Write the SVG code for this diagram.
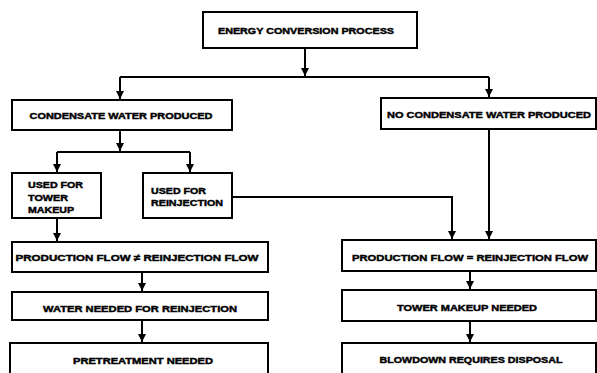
<svg xmlns="http://www.w3.org/2000/svg" width="597" height="373" viewBox="0 0 597 373">
<style>
.box{fill:#fff;stroke:#000;stroke-width:2}
.t{font-family:"Liberation Sans",Arial,sans-serif;font-weight:bold;font-size:9.5px;fill:#000;stroke:#000;stroke-width:0.45}
.c{text-anchor:middle}
.ln{fill:none;stroke:#000;stroke-width:2}
</style>
<defs>
<marker id="ah" viewBox="0 0 8 8" refX="8" refY="4" markerWidth="4" markerHeight="4" orient="auto" markerUnits="strokeWidth">
<path d="M0,0 L8,4 L0,8 Z" fill="#000"/>
</marker>
</defs>
<rect width="597" height="373" fill="#fff"/>
<g id="connectors">
<path class="ln" d="M305,48 V76" marker-end="url(#ah)"/>
<path class="ln" d="M120,77 H489"/>
<path class="ln" d="M120,77 V99" marker-end="url(#ah)"/>
<path class="ln" d="M489,77 V97" marker-end="url(#ah)"/>
<path class="ln" d="M120,130 V151" marker-end="url(#ah)"/>
<path class="ln" d="M57,152 H190"/>
<path class="ln" d="M57,152 V172" marker-end="url(#ah)"/>
<path class="ln" d="M190,152 V172" marker-end="url(#ah)"/>
<path class="ln" d="M57,218 V241" marker-end="url(#ah)"/>
<path class="ln" d="M232,197 H452 V239" marker-end="url(#ah)"/>
<path class="ln" d="M489,129 V239" marker-end="url(#ah)"/>
<path class="ln" d="M142,272 V291" marker-end="url(#ah)"/>
<path class="ln" d="M142,320 V342" marker-end="url(#ah)"/>
<path class="ln" d="M470,271 V289" marker-end="url(#ah)"/>
<path class="ln" d="M470,321 V342" marker-end="url(#ah)"/>
</g>
<g id="n-energy">
<rect class="box" x="203" y="12" width="214" height="36"/>
<text class="t c" x="306" y="34" textLength="176" lengthAdjust="spacingAndGlyphs">ENERGY CONVERSION PROCESS</text>
</g>
<g id="n-condensate">
<rect class="box" x="12" y="100" width="220" height="30"/>
<text class="t c" x="121" y="119" textLength="183" lengthAdjust="spacingAndGlyphs">CONDENSATE WATER PRODUCED</text>
</g>
<g id="n-nocondensate">
<rect class="box" x="381" y="98" width="215" height="31"/>
<text class="t c" x="489" y="118" textLength="204" lengthAdjust="spacingAndGlyphs">NO CONDENSATE WATER PRODUCED</text>
</g>
<g id="n-tower">
<rect class="box" x="12" y="173" width="89" height="45"/>
<text class="t" x="28" y="188" textLength="55" lengthAdjust="spacingAndGlyphs">USED FOR</text>
<text class="t" x="28" y="201" textLength="40" lengthAdjust="spacingAndGlyphs">TOWER</text>
<text class="t" x="28" y="213" textLength="46" lengthAdjust="spacingAndGlyphs">MAKEUP</text>
</g>
<g id="n-reinj">
<rect class="box" x="143" y="173" width="89" height="45"/>
<text class="t" x="151" y="194" textLength="55" lengthAdjust="spacingAndGlyphs">USED FOR</text>
<text class="t" x="151" y="206" textLength="72" lengthAdjust="spacingAndGlyphs">REINJECTION</text>
</g>
<g id="n-prod-ne">
<rect class="box" x="12" y="242" width="256" height="30"/>
<text class="t c" x="137" y="261" textLength="243" lengthAdjust="spacingAndGlyphs">PRODUCTION FLOW ≠ REINJECTION FLOW</text>
</g>
<g id="n-water">
<rect class="box" x="12" y="292" width="256" height="28"/>
<text class="t c" x="140" y="312" textLength="194" lengthAdjust="spacingAndGlyphs">WATER NEEDED FOR REINJECTION</text>
</g>
<g id="n-pretreat">
<rect class="box" x="10" y="343" width="258" height="40"/>
<text class="t c" x="143" y="364" textLength="140" lengthAdjust="spacingAndGlyphs">PRETREATMENT NEEDED</text>
</g>
<g id="n-prod-eq">
<rect class="box" x="342" y="240" width="254" height="31"/>
<text class="t c" x="470" y="261" textLength="236" lengthAdjust="spacingAndGlyphs">PRODUCTION FLOW = REINJECTION FLOW</text>
</g>
<g id="n-towermakeup">
<rect class="box" x="342" y="290" width="254" height="31"/>
<text class="t c" x="467" y="311" textLength="140" lengthAdjust="spacingAndGlyphs">TOWER MAKEUP NEEDED</text>
</g>
<g id="n-blowdown">
<rect class="box" x="342" y="343" width="254" height="40"/>
<text class="t c" x="471" y="363" textLength="183" lengthAdjust="spacingAndGlyphs">BLOWDOWN REQUIRES DISPOSAL</text>
</g>
</svg>
